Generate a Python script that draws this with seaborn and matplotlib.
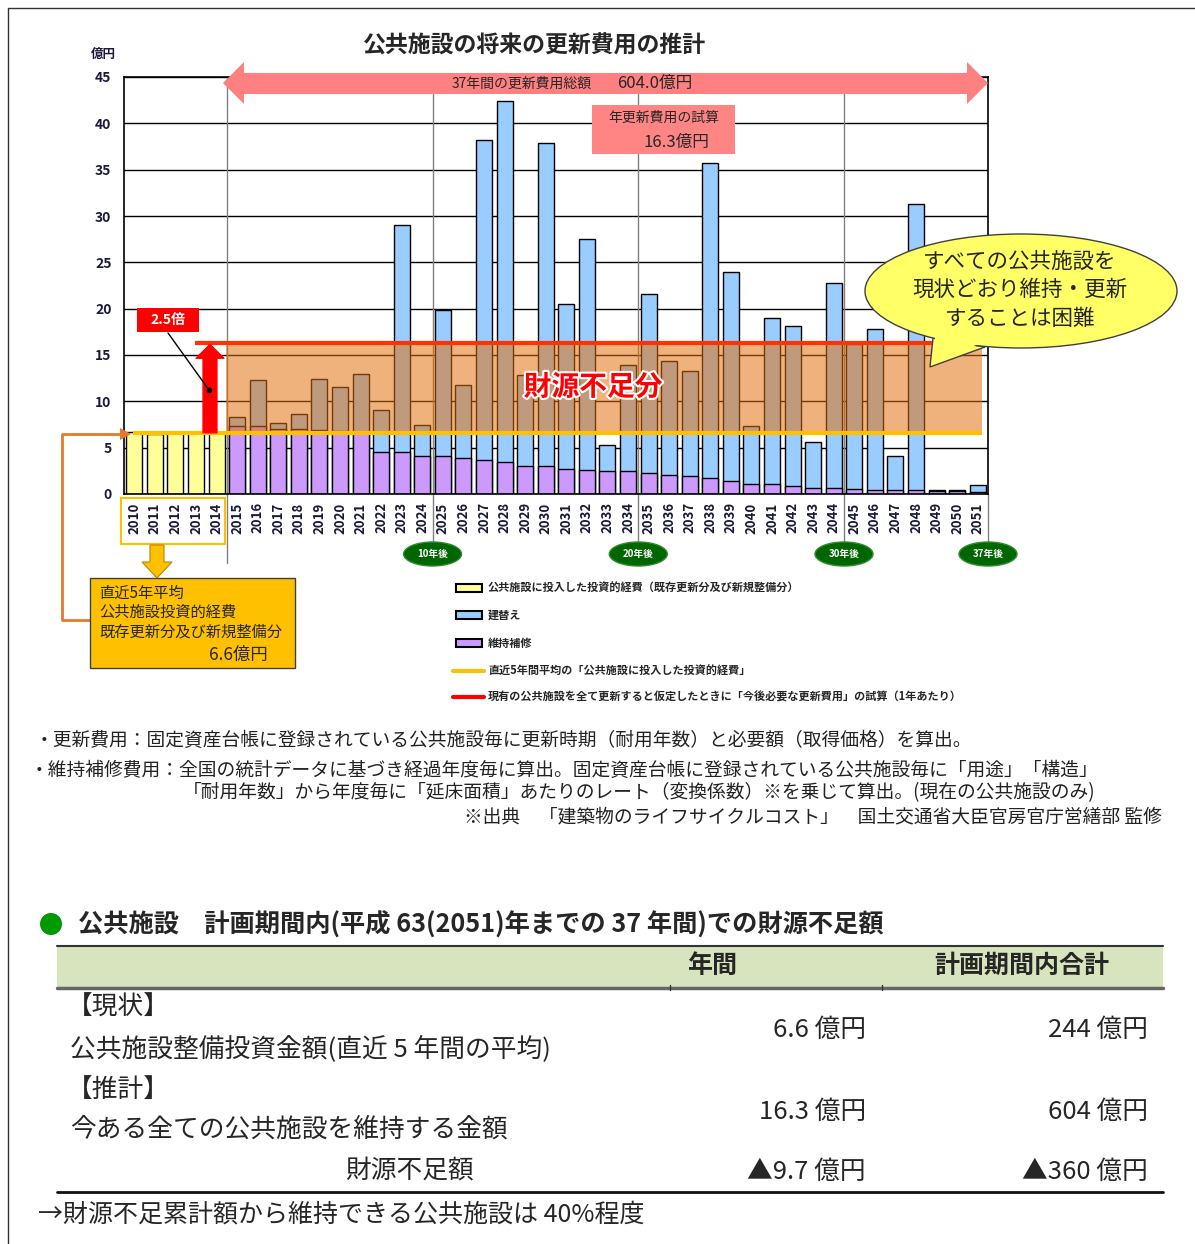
import numpy as np
import pandas as pd
import matplotlib
matplotlib.use('Agg')
import matplotlib.pyplot as plt
import seaborn as sns
from matplotlib.patches import Polygon, Rectangle, Ellipse, FancyArrowPatch, ArrowStyle
from matplotlib.lines import Line2D
import matplotlib.patheffects as pe

# ---------------------------------------------------------------
# estilo
# ---------------------------------------------------------------
sns.set_style('white')
plt.rcParams['font.family'] = ['Noto Sans CJK JP', 'DejaVu Sans']

# ---------------------------------------------------------------
# datos (億円)
# ---------------------------------------------------------------
years_past = ['2010', '2011', '2012', '2013', '2014']
invest_past = [6.7, 6.5, 6.6, 6.6, 6.6]          # 公共施設に投入した投資的経費

years_future = [str(y) for y in range(2015, 2052)]
maint = [7.3, 7.3, 7.0, 7.0, 6.9, 6.75, 6.7, 4.55, 4.5, 4.05,
         4.05, 3.9, 3.7, 3.4, 3.05, 3.05, 2.75, 2.6, 2.45, 2.45,
         2.3, 2.1, 1.95, 1.75, 1.45, 1.1, 1.1, 0.85, 0.7, 0.7,
         0.55, 0.45, 0.45, 0.45, 0.3, 0.3, 0.25]      # 維持補修
rebuild = [1.0, 4.95, 0.7, 1.6, 5.5, 4.85, 6.2, 4.55, 24.5, 3.35,
           15.85, 7.85, 34.5, 39.0, 9.75, 34.85, 17.75, 24.9, 2.8, 11.45,
           19.3, 12.2, 11.35, 33.95, 22.55, 6.2, 17.85, 17.25, 4.9, 22.1,
           15.65, 17.35, 3.65, 30.85, 0.15, 0.15, 0.7]  # 建替え

AVG_INVEST = 6.6      # 直近5年平均
EST_ANNUAL = 16.3     # 年更新費用の試算
TOTAL_37Y = 604.0     # 37年間の更新費用総額
milestone_years = ['2024', '2034', '2044', '2051']
milestone_labels = ['10年後', '20年後', '30年後', '37年後']

table_rows = ['公共施設整備投資金額(直近 5 年間の平均)', '今ある全ての公共施設を維持する金額', '財源不足額']
table_annual = ['6.6 億円', '16.3 億円', '▲9.7 億円']
table_total = ['244 億円', '604 億円', '▲360 億円']

YELLOW = '#FFFF99'
BLUE = '#99CCFF'
PURPLE = '#CC99FF'
ORANGE = '#E36E0A'
GOLD = '#FFC000'

df_f = pd.DataFrame({'year': years_future, 'maint': maint, 'rebuild': rebuild})
df_f['total'] = df_f['maint'] + df_f['rebuild']
df_p = pd.DataFrame({'year': years_past, 'invest': invest_past})
order = years_past + years_future

# ---------------------------------------------------------------
# figura (coordenadas en pixeles del original)
# ---------------------------------------------------------------
W, H = 1195, 1244
fig = plt.figure(figsize=(W / 100, H / 100), dpi=100)


def fx(x):
    return x / W


def fy(y):
    return 1 - y / H


def P(pts):
    return [(fx(a), fy(b)) for a, b in pts]


ax = fig.add_axes([fx(124), fy(494), (988 - 124) / W, (494 - 77) / H])

sns.barplot(data=df_f, x='year', y='total', order=order, color=BLUE, saturation=1,
            edgecolor='black', linewidth=1, width=0.78, ax=ax, zorder=2)
sns.barplot(data=df_f, x='year', y='maint', order=order, color=PURPLE, saturation=1,
            edgecolor='black', linewidth=1, width=0.78, ax=ax, zorder=2)
sns.barplot(data=df_p, x='year', y='invest', order=order, color=YELLOW, saturation=1,
            edgecolor='black', linewidth=1, width=0.78, ax=ax, zorder=2)

ax.set_xlim(-0.5, len(order) - 0.5)
ax.set_ylim(0, 45)
ax.set_xlabel('')
ax.set_ylabel('')
ax.set_yticks(range(0, 46, 5))
ax.set_yticklabels([str(v) for v in range(0, 46, 5)], fontsize=10, fontweight='bold', color='#1a1a3a')
ax.set_xticks(range(len(order)))
ax.set_xticklabels(order, rotation=90, fontsize=9.5, fontweight='bold', color='#1a1a3a')
ax.set_xticks(np.arange(-0.5, len(order), 1), minor=True)
ax.tick_params(axis='y', length=0, pad=9)
ax.tick_params(axis='x', which='major', length=0, pad=6)
ax.tick_params(axis='x', which='minor', direction='in', length=3, width=1.5, color='black')
ax.yaxis.grid(True, color='black', linewidth=1)
ax.set_axisbelow(True)
for s in ax.spines.values():
    s.set_color('black')
    s.set_linewidth(1.2)

# lineas verticales de hitos
trans = ax.get_xaxis_transform()
ax.plot([4.5, 4.5], [1, -0.165], transform=trans, color='#808080', lw=1, clip_on=False, zorder=1.5)
for yr in milestone_years[:-1]:
    xp = order.index(yr) + 0.5
    ax.plot([xp, xp], [1, -0.12], transform=trans, color='#808080', lw=1, clip_on=False, zorder=1.5)
xp = order.index(milestone_years[-1]) + 0.5
ax.plot([xp, xp], [0, -0.12], transform=trans, color='#808080', lw=1, clip_on=False, zorder=1.5)

# zona de 財源不足分
ax.add_patch(Rectangle((4.45, AVG_INVEST), 41.2 - 4.45, 16.45 - AVG_INVEST,
                       facecolor=ORANGE, alpha=0.53, edgecolor='none', zorder=4))
ax.plot([-0.05, 41.2], [AVG_INVEST, AVG_INVEST], color=GOLD, lw=3, zorder=5, solid_capstyle='butt')
ax.plot([2.95, 38.8], [EST_ANNUAL, EST_ANNUAL], color='#FF3300', lw=3, zorder=5, solid_capstyle='butt')
ax.add_patch(FancyArrowPatch((3.68, AVG_INVEST), (3.68, EST_ANNUAL - 0.15),
                             arrowstyle=ArrowStyle.Simple(head_length=10, head_width=20, tail_width=10),
                             mutation_scale=1, color='#FF0000', shrinkA=0, shrinkB=0, zorder=6))
ax.text(22.3, 11.5, '財源不足分', color='#FF0000', fontsize=20, fontweight='bold', ha='center', va='center',
        zorder=7, path_effects=[pe.withStroke(linewidth=3, foreground='white')])

# ---------------------------------------------------------------
# anotaciones fuera de los ejes
# ---------------------------------------------------------------
fig.text(fx(535), fy(46), '公共施設の将来の更新費用の推計', fontsize=16.5, fontweight='bold', ha='center', va='center')
fig.text(fx(103), fy(54), '億円', fontsize=9, fontweight='bold', ha='center', va='center', color='#1a1a3a')

# flecha doble 37年間
arrow_pts = [(223, 83), (244, 62), (244, 73), (967, 73), (967, 62), (988, 83),
             (967, 104), (967, 94), (244, 94), (244, 104)]
fig.add_artist(Polygon(P(arrow_pts), closed=True, transform=fig.transFigure,
                       facecolor='#FF8080', edgecolor='none', zorder=2))
fig.text(fx(522), fy(84), '37年間の更新費用総額', fontsize=10, ha='center', va='center', zorder=3)
fig.text(fx(655), fy(83), f'{TOTAL_37Y:.1f}億円', fontsize=12, ha='center', va='center', zorder=3)

fig.add_artist(Rectangle((fx(592), fy(154)), (735 - 592) / W, (154 - 105) / H, transform=fig.transFigure,
                         facecolor='#FF8585', edgecolor='none', zorder=2))
fig.text(fx(664), fy(118), '年更新費用の試算', fontsize=10, ha='center', va='center', zorder=3)
fig.text(fx(676), fy(142), f'{EST_ANNUAL}億円', fontsize=12, ha='center', va='center', zorder=3)

# 2.5倍
fig.add_artist(Line2D([fx(168), fx(209)], [fy(333), fy(390)], transform=fig.transFigure,
                      color='black', lw=1, zorder=3))
fig.add_artist(Line2D([fx(209)], [fy(390)], transform=fig.transFigure, marker='o', ms=3,
                      color='black', zorder=3))
fig.add_artist(Rectangle((fx(137), fy(332)), 62 / W, 24 / H, transform=fig.transFigure,
                         facecolor='#FF0000', edgecolor='none', zorder=2))
fig.text(fx(168), fy(320), '2.5倍', fontsize=10, fontweight='bold', color='white', ha='center', va='center', zorder=3)

# burbuja
fig.add_artist(Polygon(P([(933, 338), (930, 367), (985, 347)]), closed=True, transform=fig.transFigure,
                       facecolor='#FFFF66', edgecolor='#404040', lw=1, zorder=2))
fig.add_artist(Ellipse((fx(1021), fy(291)), 312 / W, 114 / H, transform=fig.transFigure,
                       facecolor='#FFFF66', edgecolor='#404040', lw=1, zorder=2.1))
fig.add_artist(Polygon(P([(936, 332), (931.5, 363), (981, 343)]), closed=True, transform=fig.transFigure,
                       facecolor='#FFFF66', edgecolor='none', zorder=2.2))
for txt, yy in zip(['すべての公共施設を', '現状どおり維持・更新', 'することは困難'], [262, 290, 319]):
    fig.text(fx(1020), fy(yy), txt, fontsize=15.5, ha='center', va='center', color='#262626', zorder=3)

# hitos (elipses verdes)
for yr, lab in zip(milestone_years, milestone_labels):
    xpix = 124 + (order.index(yr) + 1) * (988 - 124) / len(order)
    fig.add_artist(Ellipse((fx(xpix), fy(554)), 58 / W, 24 / H, transform=fig.transFigure,
                           facecolor='#006600', edgecolor='#2e8b2e', lw=1, zorder=2))
    fig.text(fx(xpix), fy(554), lab, fontsize=7, fontweight='bold', color='white', ha='center', va='center', zorder=3)

# caja de años 2010-2014 y flecha
fig.add_artist(Rectangle((fx(121), fy(544)), 104 / W, 46 / H, transform=fig.transFigure,
                         facecolor='none', edgecolor=GOLD, lw=1.5, zorder=2))
fig.add_artist(Polygon(P([(150, 545), (164, 545), (164, 562), (172, 562), (157, 578), (142, 562), (150, 562)]),
                       closed=True, transform=fig.transFigure, facecolor=GOLD, edgecolor='#b8860b',
                       lw=0.8, zorder=2))
fig.add_artist(Rectangle((fx(90), fy(668)), 205 / W, 90 / H, transform=fig.transFigure,
                         facecolor=GOLD, edgecolor='#404040', lw=1, zorder=2.5))
box_lines = ['直近5年平均', '公共施設投資的経費', '既存更新分及び新規整備分']
for txt, yy in zip(box_lines, [593, 612, 632]):
    fig.text(fx(99), fy(yy), txt, fontsize=11, ha='left', va='center', zorder=3)
fig.text(fx(268), fy(655), f'{AVG_INVEST}億円', fontsize=12.5, ha='right', va='center', zorder=3)

# conector naranja hacia 6.6
fig.add_artist(Line2D([fx(90), fx(62), fx(62), fx(121)], [fy(620), fy(620), fy(434), fy(434)],
                      transform=fig.transFigure, color='#E07B30', lw=2, zorder=2))
fig.add_artist(Polygon(P([(120, 428), (131, 434), (120, 440)]), closed=True, transform=fig.transFigure,
                       facecolor='#E07B30', edgecolor='none', zorder=2))

# leyenda
leg_items = [('patch', YELLOW, '公共施設に投入した投資的経費（既存更新分及び新規整備分）'),
             ('patch', BLUE, '建替え'),
             ('patch', PURPLE, '維持補修'),
             ('line', GOLD, '直近5年間平均の「公共施設に投入した投資的経費」'),
             ('line', '#FF0000', '現有の公共施設を全て更新すると仮定したときに「今後必要な更新費用」の試算（1年あたり）')]
for (kind, col, lab), yy in zip(leg_items, [588, 615, 643, 671, 697]):
    if kind == 'patch':
        fig.add_artist(Rectangle((fx(456), fy(yy + 4)), 26 / W, 8 / H, transform=fig.transFigure,
                                 facecolor=col, edgecolor='black', lw=1.5, zorder=2))
    else:
        fig.add_artist(Line2D([fx(453), fx(484)], [fy(yy), fy(yy)], transform=fig.transFigure,
                              color=col, lw=3, zorder=2))
    fig.text(fx(488), fy(yy), lab, fontsize=8, fontweight='bold', ha='left', va='center', zorder=3)

# ---------------------------------------------------------------
# notas
# ---------------------------------------------------------------
notes = [(35, 740, '・更新費用：固定資産台帳に登録されている公共施設毎に更新時期（耐用年数）と必要額（取得価格）を算出。', 'left'),
         (30, 770, '・維持補修費用：全国の統計データに基づき経過年度毎に算出。固定資産台帳に登録されている公共施設毎に「用途」「構造」', 'left'),
         (183, 793, '「耐用年数」から年度毎に「延床面積」あたりのレート（変換係数）※を乗じて算出。(現在の公共施設のみ)', 'left'),
         (1162, 817, '※出典　「建築物のライフサイクルコスト」　国土交通省大臣官房官庁営繕部 監修', 'right')]
for xx, yy, txt, ha in notes:
    fig.text(fx(xx), fy(yy), txt, fontsize=13.5, ha=ha, va='center', color='#222222')

# ---------------------------------------------------------------
# tabla
# ---------------------------------------------------------------
fig.add_artist(Ellipse((fx(51), fy(924)), 22 / W, 22 / H, transform=fig.transFigure,
                       facecolor='#009900', edgecolor='none'))
fig.text(fx(78), fy(924), '公共施設　計画期間内(平成 63(2051)年までの 37 年間)での財源不足額',
         fontsize=18.2, fontweight='bold', ha='left', va='center')

fig.add_artist(Rectangle((fx(57), fy(988)), (1163 - 57) / W, 42 / H, transform=fig.transFigure,
                         facecolor='#D7E4BD', edgecolor='none'))
fig.add_artist(Line2D([fx(57), fx(1163)], [fy(946), fy(946)], transform=fig.transFigure, color='#333333', lw=1.5))
fig.add_artist(Line2D([fx(57), fx(1163)], [fy(988), fy(988)], transform=fig.transFigure, color='#666666', lw=2.5))
for xm in [670, 882]:
    fig.add_artist(Line2D([fx(xm), fx(xm)], [fy(985), fy(990)], transform=fig.transFigure, color='#333333', lw=1))
fig.add_artist(Line2D([fx(57), fx(1163)], [fy(1192), fy(1192)], transform=fig.transFigure, color='#111111', lw=2))
fig.text(fx(712), fy(966), '年間', fontsize=18, fontweight='bold', ha='center', va='center')
fig.text(fx(1022), fy(966), '計画期間内合計', fontsize=18, fontweight='bold', ha='center', va='center')

fs_tab = 18.5
fig.text(fx(67), fy(1008), '【現状】', fontsize=fs_tab, ha='left', va='center')
fig.text(fx(70), fy(1049), table_rows[0], fontsize=fs_tab, ha='left', va='center')
fig.text(fx(67), fy(1090), '【推計】', fontsize=fs_tab, ha='left', va='center')
fig.text(fx(70), fy(1130), table_rows[1], fontsize=fs_tab, ha='left', va='center')
fig.text(fx(410), fy(1172), table_rows[2], fontsize=fs_tab, ha='center', va='center')
for val_a, val_t, yy in zip(table_annual, table_total, [1030, 1112, 1172]):
    fig.text(fx(866), fy(yy), val_a, fontsize=fs_tab, ha='right', va='center')
    fig.text(fx(1148), fy(yy), val_t, fontsize=fs_tab, ha='right', va='center')
fig.text(fx(38), fy(1215), '→財源不足累計額から維持できる公共施設は 40%程度', fontsize=18, ha='left', va='center')

# marco
fig.add_artist(Line2D([fx(8), fx(8), fx(1195)], [fy(1244), fy(8), fy(8)], transform=fig.transFigure,
                      color='#333333', lw=1))

fig.savefig('out.png', dpi=100)
